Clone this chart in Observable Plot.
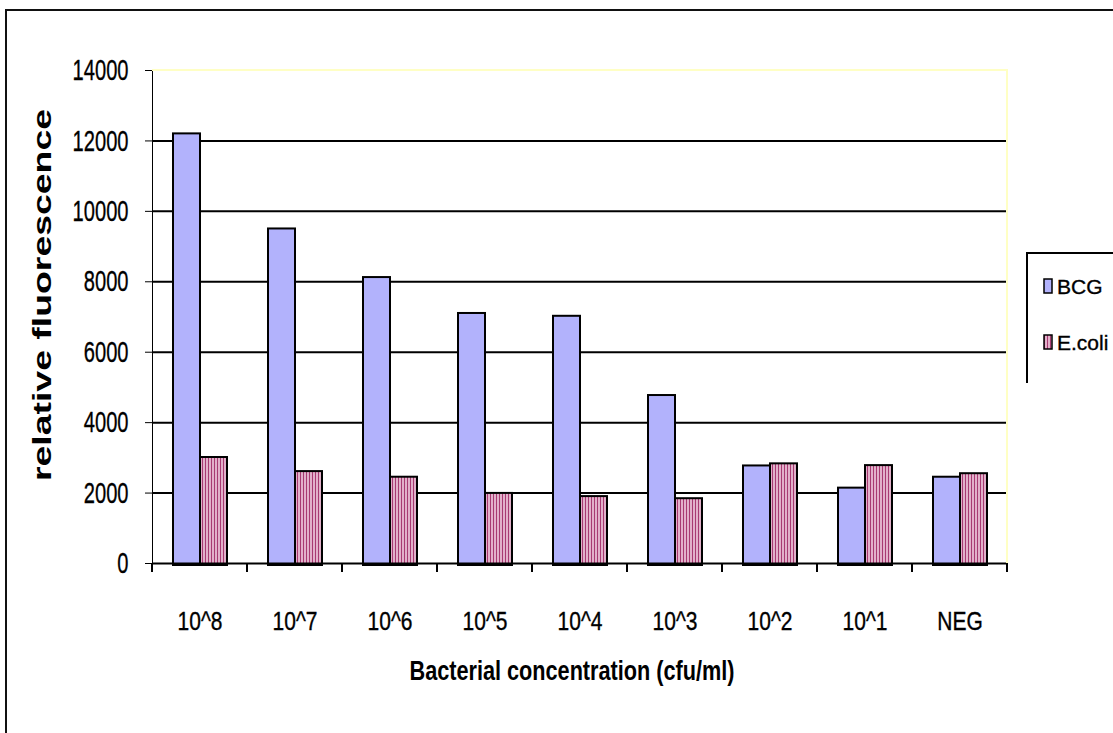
<!DOCTYPE html>
<html><head><meta charset="utf-8">
<script src="https://cdn.jsdelivr.net/npm/d3@7"></script>
<script src="https://cdn.jsdelivr.net/npm/@observablehq/plot@0.6"></script>
<style>
body{margin:0;background:#fff;}
#chart svg{display:block;}
</style></head><body><div id="chart"></div>
<script>
const categories = ["10^8","10^7","10^6","10^5","10^4","10^3","10^2","10^1","NEG"];
const seriesNames = ["BCG","E.coli"];
const bcgValues = [12200, 9500, 8120, 7100, 7020, 4770, 2770, 2140, 2450];
const ecoliValues = [3010, 2610, 2450, 1990, 1900, 1840, 2830, 2780, 2550];
const xTitle = "Bacterial concentration (cfu/ml)";
const yTitle = "relative fluorescence";
const seriesFill = {"BCG": "#b2b2fc", "E.coli": "url(#ecoliStripes)"};

const data = categories.flatMap((c, i) => [
  {cat: c, series: "BCG", value: bcgValues[i]},
  {cat: c, series: "E.coli", value: ecoliValues[i]}
]);

const sans = '"Liberation Sans",Arial,sans-serif';

const plot = Plot.plot({
  width: 1113, height: 733,
  marginLeft: 151, marginRight: 105, marginTop: 70, marginBottom: 170,
  style: {fontFamily: sans, fontSize: "25px", color: "#000", background: "#fff", overflow: "visible"},
  fx: {domain: categories, padding: 0, label: null, axis: "bottom", tickSize: 0, tickPadding: 49},
  x: {domain: seriesNames, paddingInner: 0, paddingOuter: 0.73, axis: null},
  y: {domain: [0, 14000], ticks: 7, tickSize: 7, tickPadding: 17, label: null, line: true, tickFormat: d3.format("d")},
  color: {type: "identity"},
  marks: [
    Plot.ruleY(d3.range(2000, 14000, 2000), {stroke: "#000", strokeWidth: 2}),
    Plot.barY(data, {fx: "cat", x: "series", y: "value", fill: d => seriesFill[d.series], stroke: "#000", strokeWidth: 2, insetBottom: -2}),
    Plot.ruleY([0], {stroke: "#000", strokeWidth: 2})
  ]
});

const svg = d3.select(plot);
const defs = svg.insert("defs", ":first-child");
const pat = defs.append("pattern").attr("id", "ecoliStripes").attr("patternUnits", "userSpaceOnUse")
  .attr("width", 3).attr("height", 10);
pat.append("rect").attr("width", 3).attr("height", 10).attr("fill", "#e2b0ca");
pat.append("rect").attr("width", 1).attr("height", 10).attr("fill", "#a83a72");

const fx = plot.scale("fx"), y = plot.scale("y");
const bw = fx.bandwidth;
const x0 = fx.apply(categories[0]);
const x1 = fx.apply(categories[categories.length - 1]) + bw;
const yTop = y.apply(14000), yBase = y.apply(0);

const deco = svg.append("g");
deco.append("path").attr("d", `M${x0},${yTop}H${x1}V${yBase}`).attr("fill", "none").attr("stroke", "#ffffc4").attr("stroke-width", 2);
const bounds = categories.map(c => fx.apply(c)).concat([x1]);
deco.selectAll("line.bt").data(bounds).join("line")
  .attr("x1", d => d).attr("x2", d => d).attr("y1", yBase).attr("y2", yBase + 9)
  .attr("stroke", "#000").attr("stroke-width", 2);

svg.append("text").text(xTitle)
  .attr("x", 572).attr("y", 680).attr("text-anchor", "middle")
  .attr("font-family", sans).attr("font-weight", "bold").attr("font-size", 27)
  .attr("textLength", 325).attr("lengthAdjust", "spacingAndGlyphs");
svg.append("text").text(yTitle)
  .attr("transform", "translate(51,295) rotate(-90)").attr("text-anchor", "middle")
  .attr("font-family", sans).attr("font-weight", "bold").attr("font-size", 25)
  .attr("textLength", 372).attr("lengthAdjust", "spacingAndGlyphs");

svg.append("path").attr("d", "M6,733V10H1113").attr("fill", "none").attr("stroke", "#111").attr("stroke-width", 2);

const lg = svg.append("g");
lg.append("path").attr("d", "M1113,253H1027V383").attr("fill", "none").attr("stroke", "#000").attr("stroke-width", 2);
const items = seriesNames.map((s, i) => ({s, i}));
lg.selectAll("rect.sw").data(items).join("rect")
  .attr("x", 1044).attr("y", d => 279 + d.i * 56).attr("width", 8).attr("height", 14)
  .attr("fill", d => seriesFill[d.s]).attr("stroke", "#000").attr("stroke-width", 1.5);
lg.selectAll("text.lt").data(items).join("text")
  .attr("x", 1057).attr("y", d => 294 + d.i * 56).attr("text-anchor", "start").text(d => d.s)
  .attr("font-family", sans).attr("font-size", 21)
  .attr("stroke", "#000").attr("stroke-width", 0.35);

document.getElementById("chart").appendChild(plot);

function squeeze(sel, size, factor) {
  sel.each(function () {
    this.setAttribute("font-size", size);
    this.setAttribute("font-family", sans);
    this.setAttribute("stroke", "#000");
    this.setAttribute("stroke-width", 0.35);
    const len = this.getComputedTextLength();
    this.setAttribute("textLength", len * factor);
    this.setAttribute("lengthAdjust", "spacingAndGlyphs");
  });
}
squeeze(svg.selectAll('g[aria-label="y-axis tick label"] text'), 30, 0.67);
squeeze(svg.selectAll('g[aria-label="fx-axis tick label"] text'), 25, 0.84);
</script></body></html>
